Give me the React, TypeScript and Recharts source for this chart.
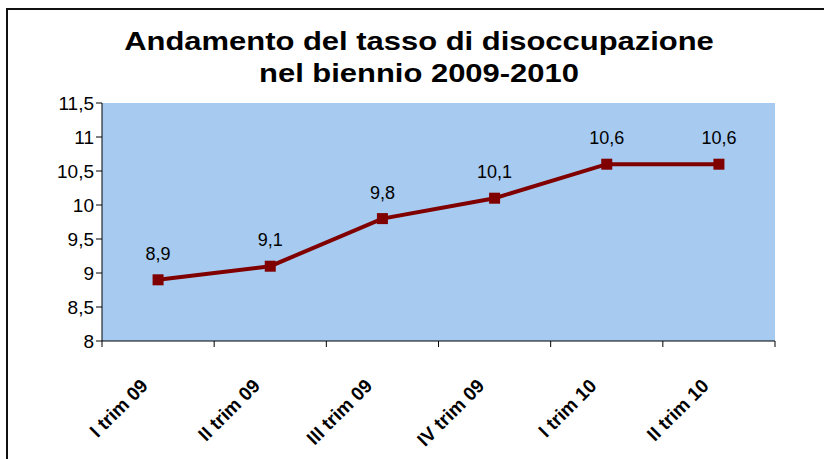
import React from 'react';
import { LineChart, Line, XAxis, YAxis, LabelList, CartesianGrid } from 'recharts';

const categories = ['I trim 09', 'II trim 09', 'III trim 09', 'IV trim 09', 'I trim 10', 'II trim 10'];
const rates = [8.9, 9.1, 9.8, 10.1, 10.6, 10.6];
const yTicks = [8, 8.5, 9, 9.5, 10, 10.5, 11, 11.5];

const data = categories.map((c, i) => ({ cat: c, rate: rates[i] }));

const fmt = (v: number) => String(v).replace('.', ',');

const W = 824;
const H = 459;
const margin = { top: 103, right: 49, bottom: 18, left: 42 };
const plotW = W - margin.left - 60 - margin.right;
const band = plotW / categories.length;
const FONT = 'Liberation Sans, Arial, sans-serif';

const XTick = (props: any) => {
  const { x, y, payload, index } = props;
  const axisY = y - 8;
  const tx = x - 9;
  const ty = axisY + 46;
  return (
    <g>
      <line x1={x - band / 2} y1={axisY} x2={x - band / 2} y2={axisY + 6} stroke="#000" strokeWidth={1} />
      {index === categories.length - 1 && (
        <line x1={x + band / 2} y1={axisY} x2={x + band / 2} y2={axisY + 6} stroke="#000" strokeWidth={1} />
      )}
      <text
        x={tx}
        y={ty}
        textAnchor="end"
        fontWeight="bold"
        fontSize={19}
        fontFamily={FONT}
        fill="#000"
        transform={`rotate(-45 ${tx} ${ty})`}
      >
        {payload.value}
      </text>
    </g>
  );
};

export default function App() {
  return (
    <div style={{ position: 'absolute', left: 0, top: 0, width: W, height: H, background: '#fff', overflow: 'hidden' }}>
      <div
        style={{
          position: 'absolute',
          left: 6,
          top: 8,
          width: W,
          height: H,
          borderTop: '2px solid #111',
          borderLeft: '2px solid #111',
        }}
      />
      <div
        style={{
          position: 'absolute',
          left: 0,
          top: 25,
          width: 838,
          textAlign: 'center',
          fontFamily: FONT,
          fontWeight: 'bold',
          fontSize: 26,
          lineHeight: '32px',
          color: '#000',
          transform: 'scaleX(1.19)',
          transformOrigin: '419px 0',
        }}
      >
        Andamento del tasso di disoccupazione
        <br />
        nel biennio 2009-2010
      </div>
      <div style={{ position: 'absolute', left: 0, top: 0 }}>
        <LineChart width={W} height={H} data={data} margin={margin}>
          <CartesianGrid horizontal={false} vertical={false} fill="#A6CAF0" stroke="none" />
          <XAxis
            dataKey="cat"
            scale="band"
            tickLine={false}
            axisLine={{ stroke: '#000', strokeWidth: 1 }}
            tick={<XTick />}
            interval={0}
            height={100}
          />
          <YAxis
            domain={[8, 11.5]}
            ticks={yTicks}
            tickFormatter={fmt}
            width={60}
            axisLine={{ stroke: '#000', strokeWidth: 1 }}
            tickLine={{ stroke: '#000' }}
            tickSize={6}
            tick={{ fill: '#000', fontSize: 19, fontFamily: FONT }}
            interval={0}
          />
          <Line
            type="linear"
            dataKey="rate"
            stroke="#800000"
            strokeWidth={4}
            isAnimationActive={false}
            dot={(p: any) => (
              <rect key={p.index} x={p.cx - 5.5} y={p.cy - 5.5} width={11} height={11} fill="#800000" />
            )}
            activeDot={false}
          >
            <LabelList
              dataKey="rate"
              position="top"
              offset={20}
              formatter={(v: any) => fmt(v)}
              style={{ fill: '#000', fontSize: 18, fontFamily: FONT }}
            />
          </Line>
        </LineChart>
      </div>
    </div>
  );
}
